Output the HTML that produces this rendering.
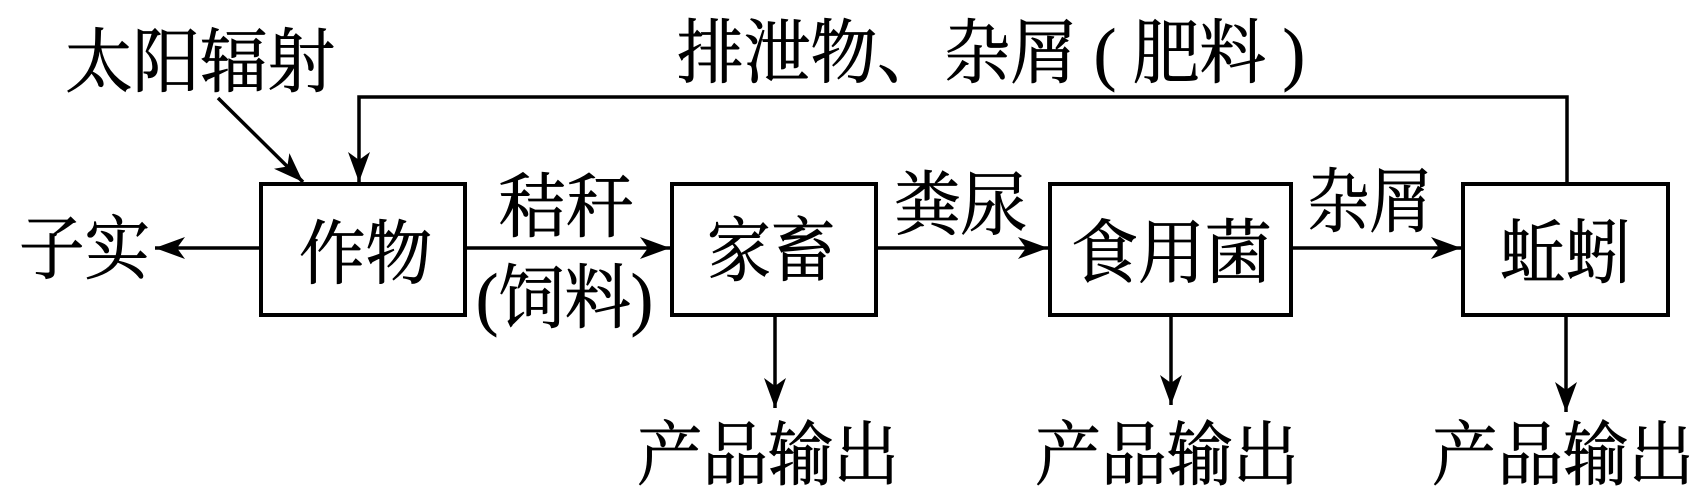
<!DOCTYPE html>
<html><head><meta charset="utf-8"><style>
html,body{margin:0;padding:0;background:#fff;overflow:hidden;}
svg{display:block;}
text{font-family:"Liberation Serif","Noto Serif CJK SC",serif;font-size:70px;fill:#000;stroke:#000;stroke-width:0.8;}
</style></head><body>
<svg width="1706" height="503" viewBox="0 0 1706 503" xmlns="http://www.w3.org/2000/svg">
<defs>
<marker id="a" viewBox="0 0 30 22" refX="30" refY="11" markerWidth="30" markerHeight="22" markerUnits="userSpaceOnUse" orient="auto">
<path d="M0,0 L30,11 L0,22 L8,11 Z" fill="#000"/>
</marker>
</defs>
<g fill="none" stroke="#000" stroke-width="4">
<rect x="261" y="184" width="204" height="131"/>
<rect x="672" y="184" width="204" height="131"/>
<rect x="1050" y="184" width="241" height="131"/>
<rect x="1463" y="184" width="205" height="131"/>
</g>
<g stroke="#000" stroke-width="3.5" fill="none">
<line x1="261" y1="248" x2="155" y2="248" marker-end="url(#a)"/>
<line x1="465" y1="248" x2="670" y2="248" marker-end="url(#a)"/>
<line x1="876" y1="248" x2="1048" y2="248" marker-end="url(#a)"/>
<line x1="1291" y1="248" x2="1461" y2="248" marker-end="url(#a)"/>
<line x1="218" y1="98" x2="303" y2="182" marker-end="url(#a)"/>
<polyline points="1567,184 1567,97 359,97 359,182" marker-end="url(#a)"/>
<line x1="775" y1="315" x2="775" y2="408" marker-end="url(#a)"/>
<line x1="1171" y1="315" x2="1171" y2="405" marker-end="url(#a)"/>
<line x1="1566" y1="315" x2="1566" y2="412" marker-end="url(#a)"/>
</g>
<text x="65" y="86" textLength="270" lengthAdjust="spacingAndGlyphs">太阳辐射</text>
<text x="677" y="77" textLength="628" lengthAdjust="spacingAndGlyphs">排泄物、杂屑 ( 肥料 )</text>
<text x="19" y="273" textLength="131" lengthAdjust="spacingAndGlyphs">子实</text>
<text x="299" y="278" textLength="133" lengthAdjust="spacingAndGlyphs">作物</text>
<text x="498" y="231" textLength="136" lengthAdjust="spacingAndGlyphs">秸秆</text>
<text x="476" y="322" textLength="177" lengthAdjust="spacingAndGlyphs">(饲料)</text>
<text x="707" y="275" textLength="128" lengthAdjust="spacingAndGlyphs">家畜</text>
<text x="894" y="229" textLength="133" lengthAdjust="spacingAndGlyphs">粪尿</text>
<text x="1071" y="277" textLength="201" lengthAdjust="spacingAndGlyphs">食用菌</text>
<text x="1307" y="226" textLength="125" lengthAdjust="spacingAndGlyphs">杂屑</text>
<text x="1500" y="277" textLength="131" lengthAdjust="spacingAndGlyphs">蚯蚓</text>
<text x="637" y="479" textLength="262" lengthAdjust="spacingAndGlyphs">产品输出</text>
<text x="1035" y="479" textLength="264" lengthAdjust="spacingAndGlyphs">产品输出</text>
<text x="1432" y="479" textLength="262" lengthAdjust="spacingAndGlyphs">产品输出</text>
</svg>
</body></html>
